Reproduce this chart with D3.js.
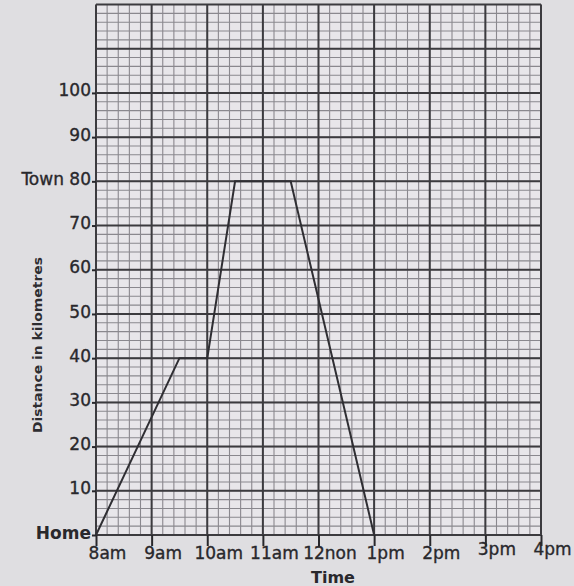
<!DOCTYPE html>
<html><head><meta charset="utf-8">
<script src="https://cdn.jsdelivr.net/npm/d3@7"></script>
<style>
html,body{margin:0;padding:0;background:#dfdfe1;}
svg{display:block;font-family:"DejaVu Sans",sans-serif;}
</style></head>
<body><svg id="c" width="574" height="586"></svg>
<script>
// ---- data ----
const hours = [8, 9, 10, 11, 12, 13, 14, 15, 16];
const hourLabels = ["8am", "9am", "10am", "11am", "12non", "1pm", "2pm", "3pm", "4pm"];
const distTicks = [0, 10, 20, 30, 40, 50, 60, 70, 80, 90, 100];
const distLabels = ["Home", "10", "20", "30", "40", "50", "60", "70", "Town 80", "90", "100"];
const journeyTime = [8, 9.5, 10, 10.5, 11.5, 13];
const journeyDist = [0, 40, 40, 80, 80, 0];

const svg = d3.select("#c");
const W = 574, H = 586;
const x = d3.scaleLinear().domain([8, 16]).range([96, 541]);
const y = d3.scaleLinear().domain([0, 120]).range([535, 4.5]);
const ink = "#29282c";

// paper
svg.append("rect").attr("width", W).attr("height", H).attr("fill", "#dfdee1");
svg.append("rect").attr("x", x(8)).attr("y", y(120)).attr("width", x(16) - x(8)).attr("height", y(0) - y(120)).attr("fill", "#e8e6ea");

// minor grid
const g = svg.append("g");
const minorX = d3.range(8, 16.0001, 0.2);
const minorY = d3.range(0, 120.0001, 2);
g.selectAll("line.mx").data(minorX).join("line")
  .attr("x1", d => x(d)).attr("x2", d => x(d)).attr("y1", y(120)).attr("y2", y(0))
  .attr("stroke", "#8a888e").attr("stroke-width", 1.1);
g.selectAll("line.my").data(minorY).join("line")
  .attr("x1", x(8)).attr("x2", x(16)).attr("y1", d => y(d)).attr("y2", d => y(d))
  .attr("stroke", "#8a888e").attr("stroke-width", 1.1);
// major grid
const majorY = d3.range(0, 120.0001, 10);
g.selectAll("line.My").data(majorY).join("line")
  .attr("x1", x(8)).attr("x2", x(16)).attr("y1", d => y(d)).attr("y2", d => y(d))
  .attr("stroke", "#3c3b3f").attr("stroke-width", 2);
g.selectAll("line.Mx").data(hours).join("line")
  .attr("x1", d => x(d)).attr("x2", d => x(d)).attr("y1", y(120)).attr("y2", y(0))
  .attr("stroke", "#3c3b3f").attr("stroke-width", 2);

// x axis
const xAxis = d3.axisBottom(x).tickValues(hours).tickSize(11).tickPadding(4)
  .tickFormat((d, i) => hourLabels[i]);
const xg = svg.append("g").attr("transform", `translate(0,${y(0)})`).call(xAxis);
xg.select(".domain").remove();
xg.selectAll(".tick line").attr("stroke", ink).attr("stroke-width", 2);
xg.selectAll(".tick text").attr("font-size", 17).attr("fill", ink)
  .attr("stroke", ink).attr("stroke-width", 0.35)
  .attr("font-family", "DejaVu Sans, sans-serif").attr("dx", 11).attr("dy", "0.55em")
  .attr("transform", (d) => d >= 15 ? "translate(0,-4)" : null);

// y axis
const yAxis = d3.axisLeft(y).tickValues(distTicks).tickSize(4).tickPadding(1)
  .tickFormat((d, i) => distLabels[i]);
const yg = svg.append("g").attr("transform", `translate(${x(8)},0)`).call(yAxis);
yg.select(".domain").remove();
yg.selectAll(".tick line").attr("stroke", ink).attr("stroke-width", 2);
yg.selectAll(".tick text").attr("font-size", 17).attr("fill", ink)
  .attr("stroke", ink).attr("stroke-width", d => d === 0 ? 0 : 0.35)
  .attr("font-family", "DejaVu Sans, sans-serif")
  .attr("font-weight", d => d === 0 ? "bold" : null)
  .attr("dy", d => d === 0 ? "0.2em" : "0.18em");

// journey line
const line = d3.line().x(d => x(d[0])).y(d => y(d[1]));
svg.append("path").datum(journeyTime.map((t, i) => [t, journeyDist[i]]))
  .attr("d", line).attr("fill", "none").attr("stroke", "#2f2e33").attr("stroke-width", 2);

// titles
svg.append("text").attr("x", 333).attr("y", 583).attr("text-anchor", "middle")
  .attr("font-size", 16).attr("font-weight", "bold").attr("fill", ink).text("Time");
svg.append("text").attr("transform", "translate(42,345) rotate(-90)").attr("text-anchor", "middle")
  .attr("font-size", 13).attr("font-weight", "bold").attr("fill", "#2e2d31")
  .attr("textLength", 176).attr("lengthAdjust", "spacingAndGlyphs").text("Distance in kilometres");
</script></body></html>
